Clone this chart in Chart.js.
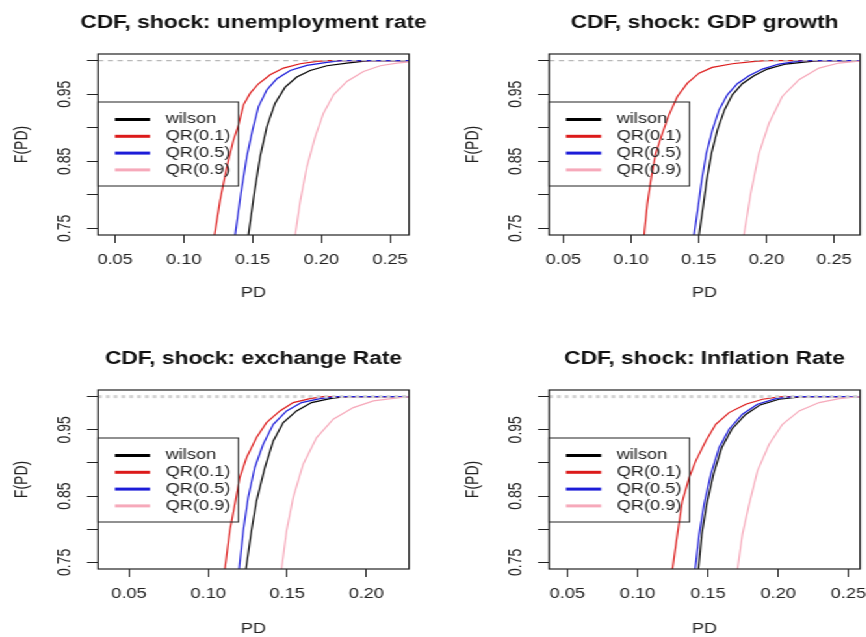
<!DOCTYPE html>
<html lang="en">
  <head>
    <meta charset="UTF-8" />
    <title>CDF, shock</title>
    <style>
      html,
      body {
        margin: 0;
        padding: 0;
        background: #fff;
        overflow: hidden;
      }

      .page {
        position: relative;
        width: 866px;
        height: 637px;
        overflow: hidden;
      }

      /* the original picture is stretched sideways, so draw narrow and widen */
      .stage {
        position: absolute;
        left: 0;
        top: 0;
        width: 740px;
        height: 637px;
        transform: scaleX(1.3);
        transform-origin: 0 0;
      }

      .stage canvas {
        position: absolute;
      }
    </style>
  </head>
  <body>
    <div class="page">
      <div class="stage">
        <canvas id="unemp" width="390" height="318" style="left: 0; top: 0"></canvas>
        <canvas id="gdp" width="390" height="318" style="left: 347.4px; top: 0"></canvas>
        <canvas id="exch" width="390" height="318" style="left: 0; top: 336px"></canvas>
        <canvas id="infl" width="390" height="318" style="left: 347.4px; top: 336px"></canvas>
      </div>
    </div>

    <script src="https://cdn.jsdelivr.net/npm/chart.js"></script>

    <script>
      const seriesNames = ["wilson", "QR(0.1)", "QR(0.5)", "QR(0.9)"];
      const seriesColors = ["#000000", "#dc1a1a", "#1c1cd8", "#f6a9ba"];

      const yRange = [0.74, 1.01];
      const yTicks = [0.75, 0.8, 0.85, 0.9, 0.95, 1.0];
      const yTickLabels = ["0.75", "", "0.85", "", "0.95", ""];
      const refLevel = [1];

      // unemployment rate
      const unempTitle = "CDF, shock: unemployment rate";
      const unempXRange = [0.0376, 0.2638];
      const unempXTicks = [0.05, 0.1, 0.15, 0.2, 0.25];
      const unempWilson = [[0.147, 0.74], [0.1512, 0.8019], [0.1555, 0.8568], [0.1604, 0.9017], [0.1664, 0.9366], [0.1737, 0.9606], [0.1822, 0.9756], [0.1919, 0.9855], [0.2041, 0.9925], [0.2186, 0.9965], [0.2283, 0.9985], [0.235, 1], [0.3, 1]];
      const unempQR1 = [[0.1223, 0.74], [0.1264, 0.7919], [0.1313, 0.8418], [0.1361, 0.8817], [0.1398, 0.9042], [0.1434, 0.9341], [0.1483, 0.9516], [0.1543, 0.9656], [0.1628, 0.979], [0.1725, 0.989], [0.1846, 0.9955], [0.1968, 0.999], [0.205, 1], [0.3, 1]];
      const unempQR5 = [[0.1373, 0.74], [0.1415, 0.8019], [0.1458, 0.8568], [0.15, 0.8967], [0.1543, 0.9316], [0.1604, 0.9566], [0.1677, 0.9731], [0.1774, 0.9855], [0.1895, 0.993], [0.2041, 0.9975], [0.2113, 0.9995], [0.215, 1], [0.3, 1]];
      const unempQR9 = [[0.181, 0.74], [0.1846, 0.7894], [0.1895, 0.8418], [0.1956, 0.8867], [0.2016, 0.9217], [0.2089, 0.9491], [0.2186, 0.9691], [0.2307, 0.984], [0.2429, 0.9925], [0.255, 0.9965], [0.2647, 0.9985], [0.3, 1]];

      // GDP growth
      const gdpTitle = "CDF, shock: GDP growth";
      const gdpXRange = [0.0394, 0.2692];
      const gdpXTicks = [0.05, 0.1, 0.15, 0.2, 0.25];
      const gdpWilson = [[0.1502, 0.74], [0.1532, 0.7819], [0.1559, 0.8219], [0.1594, 0.8618], [0.1638, 0.8967], [0.169, 0.9266], [0.1748, 0.9491], [0.1822, 0.9656], [0.1908, 0.9776], [0.2007, 0.9875], [0.2142, 0.995], [0.2314, 0.9985], [0.24, 1], [0.3, 1]];
      const gdpQR1 = [[0.1096, 0.74], [0.112, 0.7869], [0.115, 0.8268], [0.1182, 0.8618], [0.1231, 0.8917], [0.128, 0.9192], [0.1342, 0.9466], [0.1416, 0.9666], [0.1502, 0.9815], [0.16, 0.99], [0.1748, 0.9955], [0.1896, 0.9985], [0.1994, 1], [0.3, 1]];
      const gdpQR5 = [[0.1465, 0.74], [0.1495, 0.7819], [0.1522, 0.8219], [0.1556, 0.8618], [0.1601, 0.8967], [0.165, 0.9266], [0.1711, 0.9491], [0.1785, 0.9656], [0.1871, 0.9776], [0.197, 0.9875], [0.2093, 0.995], [0.2216, 0.9985], [0.228, 1], [0.3, 1]];
      const gdpQR9 = [[0.1834, 0.74], [0.1884, 0.8019], [0.1945, 0.8618], [0.2019, 0.9067], [0.2117, 0.9466], [0.2241, 0.9716], [0.2388, 0.989], [0.2536, 0.9965], [0.2684, 0.9995], [0.3, 1]];

      // exchange rate
      const exchTitle = "CDF, shock: exchange Rate";
      const exchXRange = [0.0304, 0.227];
      const exchXTicks = [0.05, 0.1, 0.15, 0.2];
      const exchWilson = [[0.1239, 0.74], [0.1274, 0.7977], [0.1306, 0.8429], [0.1359, 0.8931], [0.1412, 0.9332], [0.1475, 0.9608], [0.1559, 0.9784], [0.1654, 0.991], [0.177, 0.997], [0.1855, 0.9995], [0.19, 1], [0.3, 1]];
      const exchQR1 = [[0.1106, 0.74], [0.1137, 0.7977], [0.1169, 0.8379], [0.12, 0.878], [0.1243, 0.9081], [0.1306, 0.9383], [0.1369, 0.9608], [0.1454, 0.9784], [0.1538, 0.991], [0.1644, 0.997], [0.1728, 1], [0.3, 1]];
      const exchQR5 = [[0.1196, 0.74], [0.1222, 0.7977], [0.1253, 0.8479], [0.1295, 0.8931], [0.1348, 0.9282], [0.1412, 0.9583], [0.1496, 0.9784], [0.1591, 0.991], [0.1707, 0.997], [0.1812, 1], [0.3, 1]];
      const exchQR9 = [[0.1464, 0.74], [0.1496, 0.7977], [0.1538, 0.8479], [0.1601, 0.8981], [0.1686, 0.9383], [0.1791, 0.9659], [0.1918, 0.9834], [0.2045, 0.9935], [0.2171, 0.9975], [0.2256, 0.9995], [0.3, 1]];

      // inflation rate
      const inflTitle = "CDF, shock: Inflation Rate";
      const inflXRange = [0.037, 0.2583];
      const inflXTicks = [0.05, 0.1, 0.15, 0.2, 0.25];
      const inflWilson = [[0.1433, 0.74], [0.1457, 0.7927], [0.1492, 0.8379], [0.154, 0.883], [0.1599, 0.9232], [0.167, 0.9508], [0.1765, 0.9724], [0.1872, 0.9875], [0.2007, 0.996], [0.2126, 0.999], [0.22, 1], [0.3, 1]];
      const inflQR1 = [[0.1248, 0.74], [0.1283, 0.7927], [0.1319, 0.8429], [0.1367, 0.878], [0.1414, 0.9031], [0.1485, 0.9332], [0.1556, 0.9583], [0.1651, 0.9759], [0.177, 0.9885], [0.1889, 0.996], [0.2007, 0.9995], [0.205, 1], [0.3, 1]];
      const inflQR5 = [[0.1409, 0.74], [0.1438, 0.7927], [0.1473, 0.8379], [0.1521, 0.883], [0.158, 0.9232], [0.1651, 0.9508], [0.1746, 0.9734], [0.1853, 0.9885], [0.1984, 0.997], [0.2102, 1], [0.3, 1]];
      const inflQR9 = [[0.1711, 0.74], [0.1746, 0.7927], [0.1794, 0.8379], [0.1853, 0.888], [0.1936, 0.9282], [0.2031, 0.9583], [0.215, 0.9784], [0.2292, 0.991], [0.2435, 0.997], [0.2554, 0.9995], [0.3, 1]];

      const fontFamily = "'Liberation Sans', Arial, sans-serif";
      const axisFont = { family: fontFamily, size: 14 };
      const textColor = "#222";
      const sideWidth = 75.4;

      // box round the plot region, like R's box()
      const plotBox = {
        id: "plotBox",
        afterDraw(chart) {
          const { ctx, chartArea: a } = chart;
          ctx.save();
          ctx.strokeStyle = "#222";
          ctx.lineWidth = 1.2;
          ctx.strokeRect(a.left, a.top, a.right - a.left, a.bottom - a.top);
          ctx.restore();
        },
      };

      // legend sits inside the plot, transparent, top-left
      const insideLegend = {
        id: "insideLegend",
        afterDatasetsDraw(chart) {
          const { ctx, chartArea } = chart;
          const left = chartArea.left;
          const top = chartArea.top + 48;
          ctx.save();
          ctx.strokeStyle = "#222";
          ctx.lineWidth = 1;
          ctx.strokeRect(left, top, 108, 84);
          ctx.font = `14px ${fontFamily}`;
          ctx.textBaseline = "middle";
          seriesNames.forEach((name, i) => {
            const y = top + 17.5 + i * 16.8;
            ctx.strokeStyle = seriesColors[i];
            ctx.lineWidth = 3;
            ctx.beginPath();
            ctx.moveTo(left + 13, y);
            ctx.lineTo(left + 40, y);
            ctx.stroke();
            ctx.fillStyle = textColor;
            ctx.fillText(name, left + 52, y);
          });
          ctx.restore();
        },
      };

      function toPoints(pairs) {
        return pairs.map(([x, y]) => ({ x, y }));
      }

      function makePanel(id, title, xRange, xTicks, curves, axisHeight, dash) {
        const curveSets = curves
          .map((pairs, i) => ({
            label: seriesNames[i],
            data: toPoints(pairs),
            borderColor: seriesColors[i],
            borderWidth: 1.2,
            pointRadius: 0,
            tension: 0,
          }))
          .reverse();

        const refSet = {
          label: "ref",
          data: [
            { x: xRange[0], y: refLevel[0] },
            { x: xRange[1], y: refLevel[0] },
          ],
          borderColor: dash.color,
          borderWidth: dash.width,
          borderDash: dash.pattern,
          pointRadius: 0,
        };

        return new Chart(document.getElementById(id), {
          type: "line",
          data: { datasets: [refSet, ...curveSets] },
          options: {
            responsive: false,
            animation: false,
            layout: { padding: 0 },
            plugins: {
              legend: { display: false },
              tooltip: { enabled: false },
              title: {
                display: true,
                text: title,
                color: "#111",
                font: { family: fontFamily, size: 17.5, weight: "bold" },
                padding: { top: 12.5, bottom: 20.5 },
              },
            },
            scales: {
              x: {
                type: "linear",
                min: xRange[0],
                max: xRange[1],
                afterBuildTicks: (s) => {
                  s.ticks = xTicks.map((v) => ({ value: v }));
                },
                afterFit: (s) => {
                  s.height = axisHeight;
                },
                ticks: {
                  autoSkip: false,
                  minRotation: 0,
                  maxRotation: 0,
                  padding: 8.6,
                  font: axisFont,
                  color: textColor,
                  callback: (v) => Number(v).toFixed(2),
                },
                grid: { drawOnChartArea: false, tickLength: 8, color: "#222" },
                border: { display: false },
                title: {
                  display: true,
                  text: "PD",
                  font: axisFont,
                  color: textColor,
                  padding: { top: 0, bottom: 16.6 },
                },
              },
              y: {
                type: "linear",
                min: yRange[0],
                max: yRange[1],
                afterBuildTicks: (s) => {
                  s.ticks = yTicks.map((v) => ({ value: v }));
                },
                afterFit: (s) => {
                  s.width = sideWidth;
                },
                ticks: {
                  autoSkip: false,
                  minRotation: 90,
                  maxRotation: 90,
                  crossAlign: "center",
                  padding: 2.8,
                  font: axisFont,
                  color: textColor,
                  callback: (v, i) => yTickLabels[i],
                },
                grid: { drawOnChartArea: false, tickLength: 8.5, color: "#222" },
                border: { display: false },
                title: {
                  display: true,
                  text: "F(PD)",
                  font: axisFont,
                  color: textColor,
                  padding: { top: 8.6, bottom: 0 },
                },
              },
              // empty right-hand margin so the title centres over the plot
              yPad: {
                type: "linear",
                position: "right",
                min: yRange[0],
                max: yRange[1],
                afterFit: (s) => {
                  s.width = sideWidth;
                },
                ticks: { display: false },
                grid: { display: false },
                border: { display: false },
              },
            },
          },
          plugins: [plotBox, insideLegend],
        });
      }

      const thinDash = { color: "#b8b8b8", width: 1.2, pattern: [4, 3.5] };
      const thickDash = { color: "#d2d2d2", width: 3, pattern: [3, 3] };

      makePanel("unemp", unempTitle, unempXRange, unempXTicks, [unempWilson, unempQR1, unempQR5, unempQR9], 83, thinDash);
      makePanel("gdp", gdpTitle, gdpXRange, gdpXTicks, [gdpWilson, gdpQR1, gdpQR5, gdpQR9], 83, thinDash);
      makePanel("exch", exchTitle, exchXRange, exchXTicks, [exchWilson, exchQR1, exchQR5, exchQR9], 85, thickDash);
      makePanel("infl", inflTitle, inflXRange, inflXTicks, [inflWilson, inflQR1, inflQR5, inflQR9], 85, thickDash);
    </script>
  </body>
</html>
